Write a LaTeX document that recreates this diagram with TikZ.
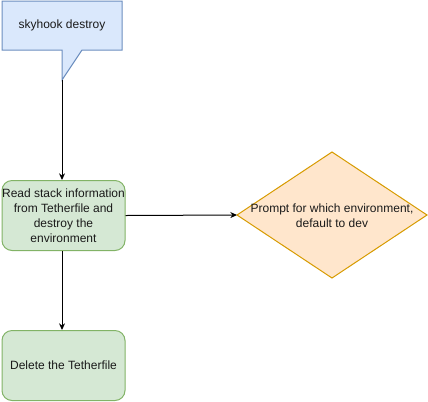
\documentclass[tikz,border=0pt]{standalone}
\usepackage{fontspec}
\setmainfont{Liberation Sans}
\usetikzlibrary{arrows.meta}
\definecolor{bluefill}{HTML}{DAE8FC}
\definecolor{bluestroke}{HTML}{6C8EBF}
\definecolor{greenfill}{HTML}{D5E8D4}
\definecolor{greenstroke}{HTML}{82B366}
\definecolor{orangefill}{HTML}{FFE6CC}
\definecolor{orangestroke}{HTML}{D79B00}
\definecolor{txt}{HTML}{1A1A1A}
\begin{document}
\begin{tikzpicture}[x=0.75pt,y=-0.75pt,
  every node/.style={font=\fontsize{9pt}{11.25pt}\selectfont, text=txt},
  greenbox/.style={draw=greenstroke, fill=greenfill, rounded corners=7.5pt, minimum width=92.25pt, minimum height=52.5pt, inner sep=0pt, align=center, line width=0.75pt},
  conn/.style={draw=black, line width=0.75pt, -{Stealth[length=5pt,width=4.5pt]}}]
\useasboundingbox (0,0) rectangle (428,401);
% callout
\draw[draw=bluestroke, fill=bluefill, line width=0.75pt]
  (2,1) -- (122,1) -- (122,50) -- (82,50) -- (62,80) -- (62,50) -- (2,50) -- cycle;
\node (call) at (62,25.5) {skyhook destroy};
\coordinate (tip) at (62,80);
\node[greenbox] (read) at (63.5,215.5) {Read stack information\\from Tetherfile and\\destroy the\\environment};
% decision diamond
\coordinate (pw) at (237,215);
\coordinate (pn) at (332,152);
\coordinate (pe) at (427,215);
\coordinate (ps) at (332,278);
\draw[draw=orangestroke, fill=orangefill, line width=0.75pt] (pw) -- (pn) -- (pe) -- (ps) -- cycle;
\node[align=center] (prompt) at (332,215.5) {Prompt for which environment,\\default to dev};
\node[greenbox] (del) at (63.5,365.5) {Delete the Tetherfile};
\draw[conn] (tip) -- (read.north -| tip);
\draw[conn] (read.east) -- (pw);
\draw[conn] (read.south -| tip) -- (del.north -| tip);
\end{tikzpicture}
\end{document}
